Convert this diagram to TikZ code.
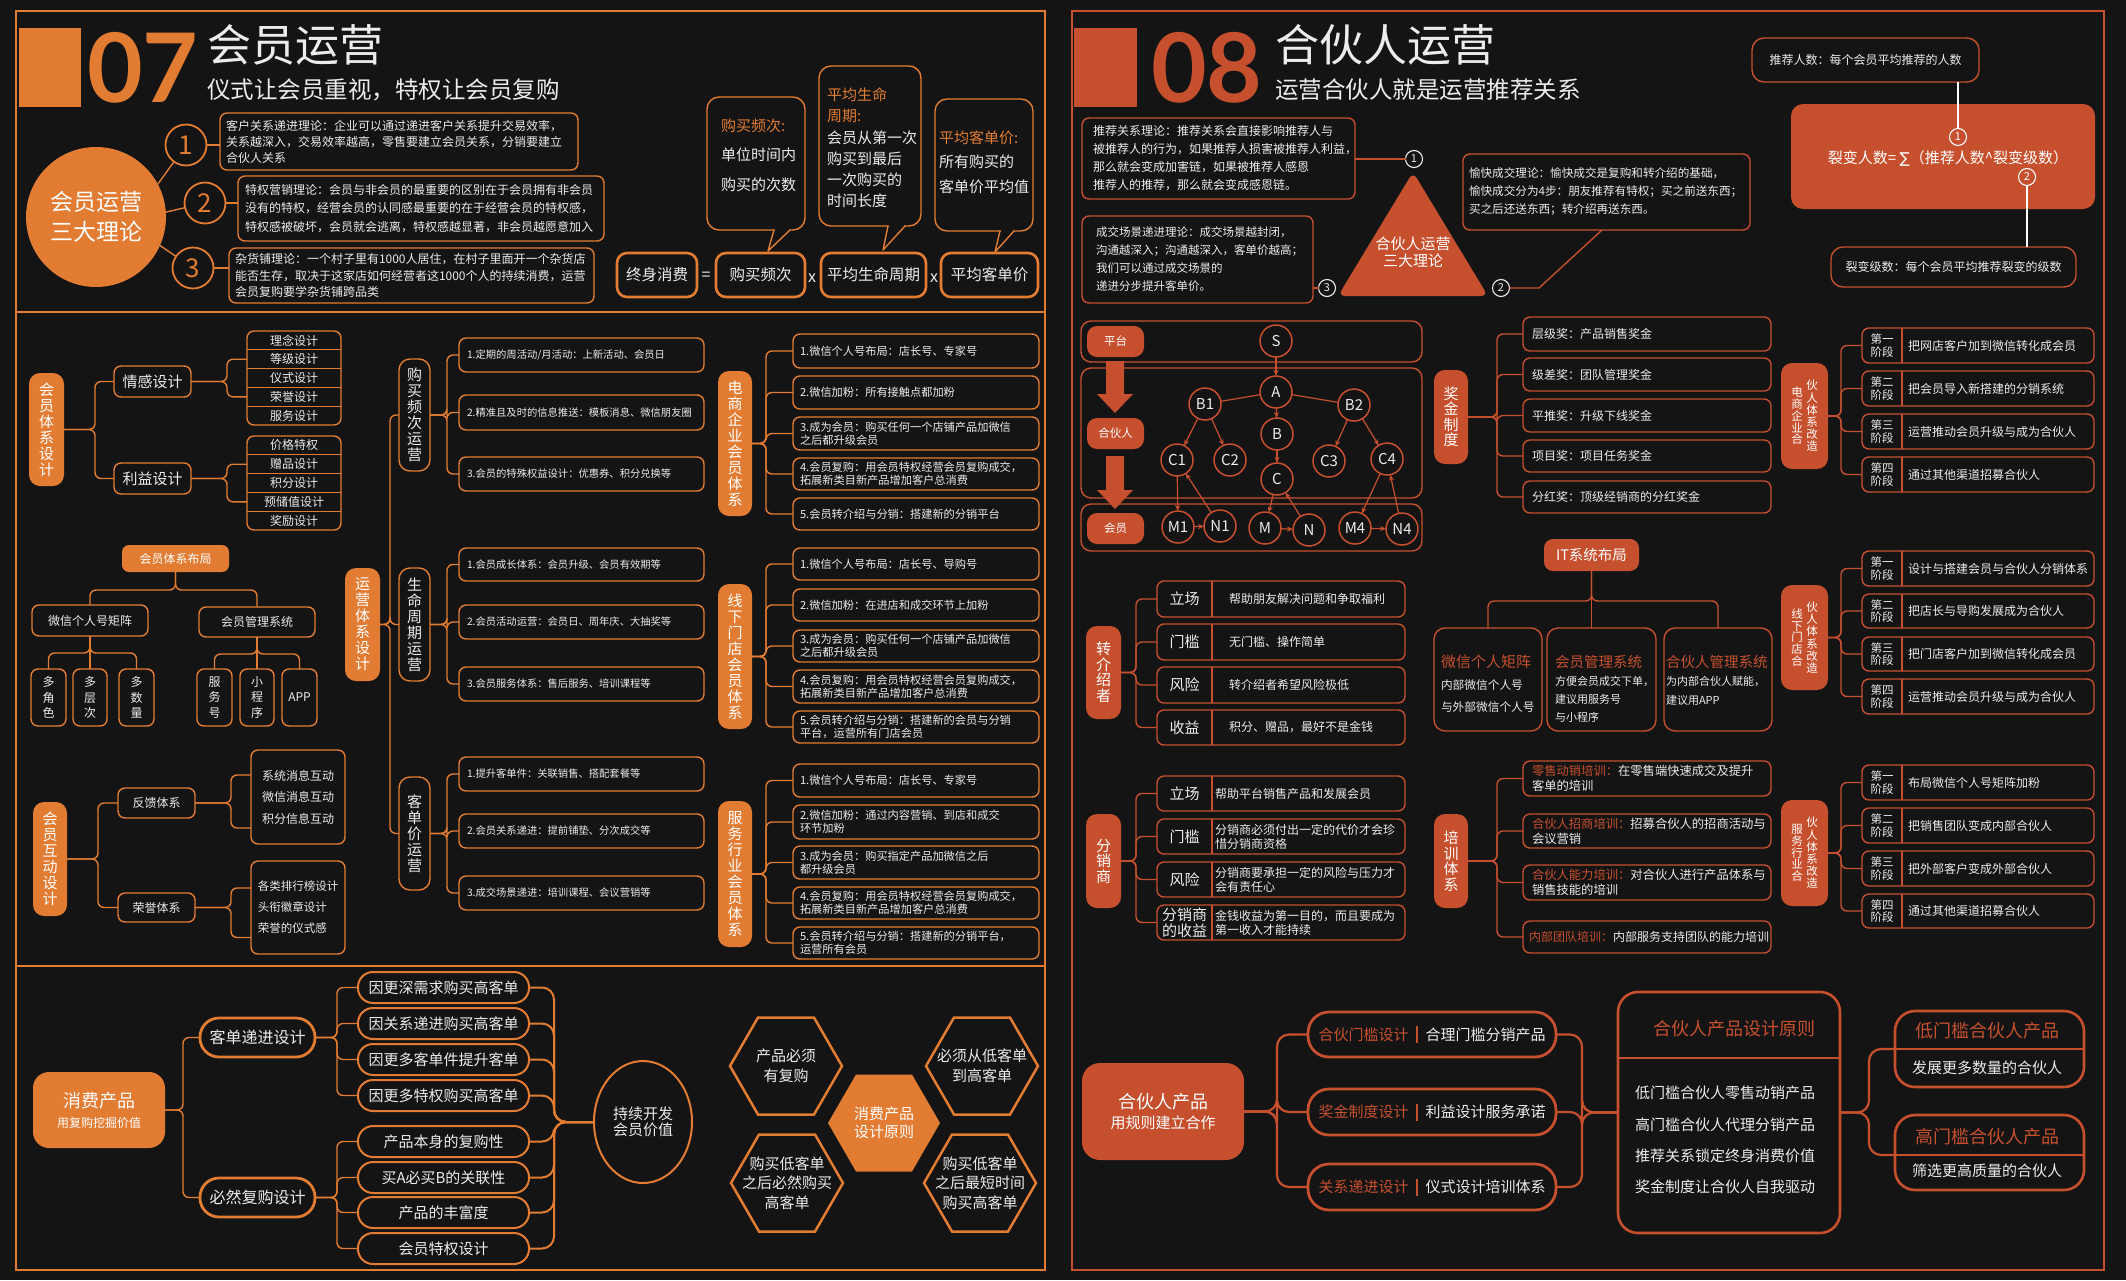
\documentclass[tikz,border=0pt]{standalone}
\usepackage{fontspec}
\setmainfont{Noto Sans CJK SC}
\newfontfamily\numfont{Lato}
\newfontfamily\djv{DejaVu Sans}
\usetikzlibrary{shapes.geometric,arrows.meta,calc}
\definecolor{bg}{RGB}{20,20,20}
\definecolor{OR}{RGB}{226,124,50}
\definecolor{RD}{RGB}{198,80,46}
\definecolor{TX}{RGB}{236,236,236}
\newcommand\fs[2]{\fontsize{#1pt}{#2pt}\selectfont}
\tikzset{
 nb/.style={inner sep=0pt,outer sep=0pt,align=center,text=TX},
 obx/.style={draw=OR,line width=1.4pt,rounded corners=7pt},
 ofx/.style={fill=OR,text=white,rounded corners=7pt},
 rbx/.style={draw=RD,line width=1.4pt,rounded corners=7pt},
 rfx/.style={fill=RD,text=white,rounded corners=7pt},
 ofv/.style={ofx,rounded corners=11pt,font=\fs{15}{16}},
 obv/.style={obx,rounded corners=11pt,font=\fs{15}{16}},
 rfv/.style={rfx,rounded corners=11pt,font=\fs{15}{15.5}},
 lno/.style={draw=OR,line width=1.4pt,rounded corners=6pt},
 lnr/.style={draw=RD,line width=1.4pt,rounded corners=6pt},
 numc/.style={nb,circle,draw=OR,line width=1.8pt,minimum size=41pt,text=OR,font=\fs{26}{26}},
 fbox/.style={draw=OR,line width=2.6pt,rounded corners=10pt,font=\fs{15.5}{16}},
 gtx/.style={obx,font=\fs{10.3}{13}},
 dtx/.style={obx,font=\fs{11.2}{12.8}},
 pbx/.style={draw=OR,line width=2pt,rounded corners=15pt,font=\fs{15}{16}},
 tbx/.style={draw=OR,line width=2.8pt,rounded corners=19pt,font=\fs{16}{17}},
 hexs/.style={nb,regular polygon,regular polygon sides=6,minimum size=112pt,draw=OR,line width=2.5pt},
 smc/.style={nb,circle,draw=TX,line width=1.1pt,minimum size=17pt,font=\fs{11}{11}},
 trn/.style={nb,circle,draw=RD,line width=1.5pt,minimum size=32pt,font=\fs{15}{15}},
 tarr/.style={draw=RD,line width=1.2pt,-{Stealth[length=6pt,width=5pt]}},
 pil/.style={draw=RD,line width=2.8pt,rounded corners=21pt,font=\fs{15}{16}},
 rb2/.style={draw=RD,line width=2.6pt,rounded corners=20pt}
}
\newcommand\bx[7]{%
  \pgfmathsetmacro\bxw{#5-#3}\pgfmathsetmacro\bxh{#6-#4}%
  \pgfmathsetmacro\bxx{(#3+#5)/2}\pgfmathsetmacro\bxy{(#4+#6)/2}%
  \node[nb,#1,minimum width=\bxw pt,minimum height=\bxh pt] (#2) at (\bxx,\bxy) {#7};}
\newcommand\bxl[8]{%
  \pgfmathsetmacro\bxw{#5-#3}\pgfmathsetmacro\bxh{#6-#4}%
  \pgfmathsetmacro\bxx{(#3+#5)/2}\pgfmathsetmacro\bxy{(#4+#6)/2}%
  \pgfmathsetmacro\bxt{#5-#3-2*#7}%
  \node[nb,#1,align=left,text width=\bxt pt,minimum width=\bxw pt,minimum height=\bxh pt] (#2) at (\bxx,\bxy) {#8};}
\newcommand\zrow[6]{%
  \bx{rbx}{#1}{1157}{#2}{1405}{#3}{}%
  \pgfmathsetmacro\zry{(#2+#3)/2}%
  \node[nb,font=\fs{15}{16}] (#1l) at (1184.5,\zry) {#4};%
  \node[nb,anchor=west,align=left,font=\fs{12}{14}] (#1t) at (#5,\zry) {#6};%
  \draw[RD,line width=1.4pt] (1212,#2) -- (1212,#3);}
\newcommand\stg[5]{%
  \bx{rbx}{#1}{1862}{#2}{2094}{#3}{}%
  \pgfmathsetmacro\sty{(#2+#3)/2}%
  \node[nb,font=\fs{11.5}{12.5}] (#1l) at (1882,\sty) {#4};%
  \node[nb,anchor=west,font=\fs{12}{14}] (#1t) at (1908,\sty) {#5};%
  \draw[RD,line width=1.4pt] (1902,#2) -- (1902,#3);}
\begin{document}
\begin{tikzpicture}[x=1pt,y=-1pt,font=\fs{12}{15}]
\fill[bg] (0,0) rectangle (2126,1280);
\useasboundingbox (0,0) rectangle (2126,1280);
\draw[OR,line width=2.2pt] (16,11) rectangle (1045,1270);
\draw[OR,line width=2.2pt] (16,312) -- (1045,312);
\draw[OR,line width=2.2pt] (16,966) -- (1045,966);
\draw[RD,line width=2.2pt] (1072,11) rectangle (2104,1270);

%% ===== 07 header =====
\bx{fill=OR}{blk07}{19}{28}{81}{107}{}
\node[nb,anchor=west,text=OR,font=\numfont\bfseries\fs{96}{96}] (num07) at (87,68) {07};
\node[nb,anchor=west,font=\fs{44}{44}] (tit07) at (207,45) {会员运营};
\node[nb,anchor=west,font=\fs{23.5}{24}] (sub07) at (207,90) {仪式让会员重视，特权让会员复购};

\node[nb,circle,fill=OR,text=white,minimum size=140pt,font=\fs{23}{30}] (c07) at (96,217) {会员运营\\三大理论};
\node[numc] (t1) at (186,145) {1};
\node[numc] (t2) at (205,203) {2};
\node[numc] (t3) at (193,268) {3};
\draw[lno] (c07.28) -- (t1);
\draw[lno] (c07.4) -- (t2);
\draw[lno] (c07.-24) -- (t3);
\bxl{obx,font=\fs{12}{16}}{tb1}{220}{113}{578}{170}{6}{客户关系递进理论：企业可以通过递进客户关系提升交易效率，\\关系越深入，交易效率越高，零售要建立会员关系，分销要建立\\合伙人关系}
\bxl{obx,font=\fs{12}{18.5}}{tb2}{238}{176}{604}{241}{7}{特权营销理论：会员与非会员的最重要的区别在于会员拥有非会员\\没有的特权，经营会员的认同感最重要的在于经营会员的特权感，\\特权感被破坏，会员就会逃离，特权感越显著，非会员越愿意加入}
\bxl{obx,font=\fs{12}{16.5}}{tb3}{229}{248}{594}{303}{6}{杂货铺理论：一个村子里有1000人居住，在村子里面开一个杂货店\\能否生存，取决于这家店如何经营者这1000个人的持续消费，运营\\会员复购要学杂货铺跨品类}
\draw[lno] (t1.east) -- (t1.east -| tb1.west);
\draw[lno] (t2.east) -- (t2.east -| tb2.west);
\draw[lno] (t3.east) -- (t3.east -| tb3.west);

%% bubbles
\bx{obx,rounded corners=12pt}{bub1}{707}{97}{805}{230}{}
\node[nb,anchor=west,align=left,font=\fs{15}{29.5}] (bub1t) at (721,155) {\textcolor{OR}{购买频次:}\\单位时间内\\购买的次数};
\fill[bg] (775,227.5) rectangle (789,232.5);
\draw[OR,line width=1.4pt,line join=round] (774,230) -- (768,251) -- (790,230);
\bx{obx,rounded corners=12pt}{bub2}{819}{66}{921}{226}{}
\node[nb,anchor=west,align=left,font=\fs{15}{21.2}] (bub2t) at (827,148) {\textcolor{OR}{平均生命}\\\textcolor{OR}{周期:}\\会员从第一次\\购买到最后\\一次购买的\\时间长度};
\fill[bg] (889,223.5) rectangle (904,228.5);
\draw[OR,line width=1.4pt,line join=round] (888,226) -- (883,250) -- (905,226);
\bx{obx,rounded corners=12pt}{bub3}{935}{99}{1033}{231}{}
\node[nb,anchor=west,align=left,font=\fs{15}{24.5}] (bub3t) at (939,162) {\textcolor{OR}{平均客单价:}\\所有购买的\\客单价平均值};
\fill[bg] (1001,228.5) rectangle (1013,233.5);
\draw[OR,line width=1.4pt,line join=round] (1000,231) -- (995,252) -- (1014,231);

%% formula
\bx{fbox}{f1}{617}{253}{697}{297}{终身消费}
\node[nb,font=\fs{16}{16}] (feq) at (706,276) {=};
\bx{fbox}{f2}{716}{253}{805}{297}{购买频次}
\node[nb,font=\fs{16}{16}] (fx1) at (812,278) {x};
\bx{fbox}{f3}{821}{253}{926}{297}{平均生命周期}
\node[nb,font=\fs{16}{16}] (fx2) at (934,278) {x};
\bx{fbox}{f4}{941}{253}{1038}{297}{平均客单价}

%% ===== 07 middle =====
\bx{ofv}{hytx}{29}{373}{64}{486}{会\\员\\体\\系\\设\\计}
\bx{obx,font=\fs{15}{16}}{qg}{114}{366}{191}{397}{情感设计}
\bx{obx,font=\fs{15}{16}}{ly}{114}{463}{191}{494}{利益设计}
\draw[lno] (hytx.east) -- ++(31,0) |- (qg.west);
\draw[lno] (hytx.east) -- ++(31,0) |- (ly.west);
\bx{obx}{l1}{247}{331}{341}{425}{}
\foreach \nm/\yy/\tx in {l1a/340.4/理念设计,l1b/359.2/等级设计,l1c/378/仪式设计,l1d/396.8/荣誉设计,l1e/415.6/服务设计,
  l2a/445.4/价格特权,l2b/464.2/赠品设计,l2c/483/积分设计,l2d/501.8/预储值设计,l2e/520.6/奖励设计}
  \node[nb,minimum width=94pt,minimum height=18pt,font=\fs{12}{13}] (\nm) at (294,\yy) {\tx};
\bx{obx}{l2}{247}{436}{341}{530}{}
\foreach \yy in {349.8,368.6,387.4,406.2,454.8,473.6,492.4,511.2}
  \draw[OR,line width=1.2pt] (247,\yy) -- (341,\yy);
\draw[lno] (qg.east) -- ++(36,0) |- (l1b.west);
\draw[lno] (qg.east) -- ++(36,0) |- (l1d.west);
\draw[lno] (ly.east) -- ++(36,0) |- (l2b.west);
\draw[lno] (ly.east) -- ++(36,0) |- (l2d.west);

\bx{ofx,font=\fs{12}{13}}{hyb}{122}{545}{229}{572}{会员体系布局}
\bx{obx,font=\fs{12}{13}}{wx}{32}{605}{148}{636}{微信个人号矩阵}
\bx{obx,font=\fs{12}{13}}{hyg}{199}{607}{315}{637}{会员管理系统}
\draw[lno] (hyb.south) -- ++(0,18) -| (wx.north);
\draw[lno] (hyb.south) -- ++(0,18) -| (hyg.north);
\bx{obx,font=\fs{12}{15.5}}{s1}{31}{669}{66}{726}{多\\角\\色}
\bx{obx,font=\fs{12}{15.5}}{s2}{73}{669}{107}{726}{多\\层\\次}
\bx{obx,font=\fs{12}{15.5}}{s3}{119}{669}{154}{726}{多\\数\\量}
\bx{obx,font=\fs{12}{15.5}}{s4}{197}{669}{232}{726}{服\\务\\号}
\bx{obx,font=\fs{12}{15.5}}{s5}{240}{669}{274}{726}{小\\程\\序}
\bx{obx,font=\fs{12}{15.5}}{s6}{282}{669}{317}{726}{APP}
\foreach \nm in {s1,s2,s3} \draw[lno] (wx.south) -- ++(0,17) -| (\nm.north);
\foreach \nm in {s4,s5,s6} \draw[lno] (hyg.south) -- ++(0,17) -| (\nm.north);

\bx{ofv}{hdsj}{33}{802}{67}{916}{会\\员\\互\\动\\设\\计}
\bx{obx,font=\fs{12}{13}}{fk}{118}{788}{195}{818}{反馈体系}
\bx{obx,font=\fs{12}{13}}{ry}{118}{893}{195}{922}{荣誉体系}
\draw[lno] (hdsj.east) -- ++(31,0) |- (fk.west);
\draw[lno] (hdsj.east) -- ++(31,0) |- (ry.west);
\bx{obx,font=\fs{12}{21.5}}{fkl}{251}{750}{345}{844}{系统消息互动\\微信消息互动\\积分信息互动}
\bx{obx,font=\fs{11.5}{21},align=left}{ryl}{251}{861}{345}{954}{各类排行榜设计\\头衔徽章设计\\荣誉的仪式感}
\draw[lno] (fk.east) -- ++(36,0) |- ($(fkl.west)+(0,-22)$);
\draw[lno] (fk.east) -- ++(36,0) |- ($(fkl.west)+(0,31)$);
\draw[lno] (ry.east) -- ++(36,0) |- ($(ryl.west)+(0,-19.5)$);
\draw[lno] (ry.east) -- ++(36,0) |- ($(ryl.west)+(0,30)$);

\bx{ofv}{yytx}{345}{568}{380}{681}{运\\营\\体\\系\\设\\计}
\bx{obv}{gm}{399}{359}{430}{471}{购\\买\\频\\次\\运\\营}
\bx{obv}{sm}{399}{568}{430}{681}{生\\命\\周\\期\\运\\营}
\bx{obv}{kd}{399}{777}{430}{890}{客\\单\\价\\运\\营}
\foreach \nm in {gm,sm,kd} \draw[lno] (yytx.east) -- ++(10,0) |- (\nm.west);
\bxl{gtx}{g1}{459}{338}{704}{372}{8}{1.定期的周活动/月活动：上新活动、会员日}
\bxl{gtx}{g2}{459}{395}{704}{430}{8}{2.精准且及时的信息推送：模板消息、微信朋友圈}
\bxl{gtx}{g3}{459}{457}{704}{491}{8}{3.会员的特殊权益设计：优惠券、积分兑换等}
\bxl{gtx}{sg1}{459}{548}{704}{581}{8}{1.会员成长体系：会员升级、会员有效期等}
\bxl{gtx}{sg2}{459}{605}{704}{639}{8}{2.会员活动运营：会员日、周年庆、大抽奖等}
\bxl{gtx}{sg3}{459}{667}{704}{701}{8}{3.会员服务体系：售后服务、培训课程等}
\bxl{gtx}{k1}{459}{757}{704}{791}{8}{1.提升客单件：关联销售、搭配套餐等}
\bxl{gtx}{k2}{459}{814}{704}{848}{8}{2.会员关系递进：提前铺垫、分次成交等}
\bxl{gtx}{k3}{459}{876}{704}{910}{8}{3.成交场景递进：培训课程、会议营销等}
\foreach \nm in {g1,g2,g3} \draw[lno] (gm.east) -- ++(17,0) |- (\nm.west);
\foreach \nm in {sg1,sg2,sg3} \draw[lno] (sm.east) -- ++(17,0) |- (\nm.west);
\foreach \nm in {k1,k2,k3} \draw[lno] (kd.east) -- ++(17,0) |- (\nm.west);

\bx{ofv}{ds}{718}{371}{752}{516}{电\\商\\企\\业\\会\\员\\体\\系}
\bxl{dtx}{d1}{793}{334}{1039}{368}{7}{1.微信个人号布局：店长号、专家号}
\bxl{dtx}{d2}{793}{376}{1039}{409}{7}{2.微信加粉：所有接触点都加粉}
\bxl{dtx}{d3}{793}{417}{1039}{450}{7}{3.成为会员：购买任何一个店铺产品加微信\\之后都升级会员}
\bxl{dtx}{d4}{793}{458}{1039}{490}{7}{4.会员复购：用会员特权经营会员复购成交，\\拓展新类目新产品增加客户总消费}
\bxl{dtx}{d5}{793}{498}{1039}{530}{7}{5.会员转介绍与分销：搭建新的分销平台}
\foreach \nm in {d1,d2,d3,d4,d5} \draw[lno] (ds.east) -- ++(14,0) |- (\nm.west);
\bx{ofv}{xx}{718}{584}{752}{729}{线\\下\\门\\店\\会\\员\\体\\系}
\bxl{dtx}{x1}{793}{548}{1039}{580}{7}{1.微信个人号布局：店长号、导购号}
\bxl{dtx}{x2}{793}{589}{1039}{621}{7}{2.微信加粉：在进店和成交环节上加粉}
\bxl{dtx}{x3}{793}{630}{1039}{662}{7}{3.成为会员：购买任何一个店铺产品加微信\\之后都升级会员}
\bxl{dtx}{x4}{793}{670}{1039}{703}{7}{4.会员复购：用会员特权经营会员复购成交，\\拓展新类目新产品增加客户总消费}
\bxl{dtx}{x5}{793}{711}{1039}{743}{7}{5.会员转介绍与分销：搭建新的会员与分销\\平台，运营所有门店会员}
\foreach \nm in {x1,x2,x3,x4,x5} \draw[lno] (xx.east) -- ++(14,0) |- (\nm.west);
\bx{ofv}{fw}{718}{801}{752}{947}{服\\务\\行\\业\\会\\员\\体\\系}
\bxl{dtx}{w1}{793}{764}{1039}{797}{7}{1.微信个人号布局：店长号、专家号}
\bxl{dtx}{w2}{793}{805}{1039}{839}{7}{2.微信加粉：通过内容营销、到店和成交\\环节加粉}
\bxl{dtx}{w3}{793}{846}{1039}{879}{7}{3.成为会员：购买指定产品加微信之后\\都升级会员}
\bxl{dtx}{w4}{793}{887}{1039}{919}{7}{4.会员复购：用会员特权经营会员复购成交，\\拓展新类目新产品增加客户总消费}
\bxl{dtx}{w5}{793}{927}{1039}{959}{7}{5.会员转介绍与分销：搭建新的分销平台，\\运营所有会员}
\foreach \nm in {w1,w2,w3,w4,w5} \draw[lno] (fw.east) -- ++(14,0) |- (\nm.west);

%% ===== 07 bottom =====
\bx{ofx,rounded corners=16pt}{xfcp}{33}{1072}{165}{1148}{{\fs{18}{18}消费产品}\\[5pt]{\fs{12}{12}用复购挖掘价值}}
\bx{tbx}{kdj}{200}{1018}{315}{1057}{客单递进设计}
\bx{tbx}{brf}{200}{1178}{315}{1217}{必然复购设计}
\draw[lno] (xfcp.east) -- ++(18,0) |- (kdj.west);
\draw[lno] (xfcp.east) -- ++(18,0) |- (brf.west);
\bx{pbx}{b1}{358}{972}{529}{1003}{因更深需求购买高客单}
\bx{pbx}{b2}{358}{1008}{529}{1039}{因关系递进购买高客单}
\bx{pbx}{b3}{358}{1044}{529}{1075}{因更多客单件提升客单}
\bx{pbx}{b4}{358}{1080}{529}{1111}{因更多特权购买高客单}
\bx{pbx}{b5}{358}{1126}{529}{1157}{产品本身的复购性}
\bx{pbx}{b6}{358}{1162}{529}{1193}{买A必买B的关联性}
\bx{pbx}{b7}{358}{1197}{529}{1228}{产品的丰富度}
\bx{pbx}{b8}{358}{1233}{529}{1264}{会员特权设计}
\foreach \nm in {b1,b2,b3,b4} \draw[lno] (kdj.east) -- ++(22,0) |- (\nm.west);
\foreach \nm in {b5,b6,b7,b8} \draw[lno] (brf.east) -- ++(22,0) |- (\nm.west);
\node[nb,ellipse,draw=OR,line width=2pt,minimum width=98pt,minimum height=122pt,font=\fs{15}{16.5}] (cxkf) at (643,1122) {持续开发\\会员价值};
\foreach \nm in {b1,b2,b3,b4,b5,b6,b7,b8} \draw[lno,line width=2pt,rounded corners=12pt] (\nm.east) -- ++(25,0) |- (cxkf.west);

\node[hexs] (hx1) at (786,1066) {};
\node[hexs] (hx2) at (982,1066) {};
\node[hexs,fill=OR,draw=none] (hx0) at (884,1123) {};
\node[hexs] (hx3) at (787,1183) {};
\node[hexs] (hx4) at (980,1183) {};
\node[nb,font=\fs{15}{20}] (hx1t) at (hx1) {产品必须\\有复购};
\node[nb,font=\fs{15}{20}] (hx2t) at (hx2) {必须从低客单\\到高客单};
\node[nb,text=white,font=\fs{15}{18.5}] (hx0t) at (hx0) {消费产品\\设计原则};
\node[nb,font=\fs{15}{19.5}] (hx3t) at (hx3) {购买低客单\\之后必然购买\\高客单};
\node[nb,font=\fs{15}{19.5}] (hx4t) at (hx4) {购买低客单\\之后最短时间\\购买高客单};

%% ===== 08 header =====
\bx{fill=RD}{blk08}{1074}{28}{1137}{107}{}
\node[nb,anchor=west,text=RD,font=\numfont\bfseries\fs{96}{96}] (num08) at (1151,68) {08};
\node[nb,anchor=west,font=\fs{44}{44}] (tit08) at (1275,45) {合伙人运营};
\node[nb,anchor=west,font=\fs{23.5}{24}] (sub08) at (1275,90) {运营合伙人就是运营推荐关系};

\bxl{rbx,font=\fs{12}{18}}{th1}{1082}{118}{1355}{199}{11}{推荐关系理论：推荐关系会直接影响推荐人与\\被推荐人的行为，如果推荐人损害被推荐人利益，\\那么就会变成加害链，如果被推荐人感恩\\推荐人的推荐，那么就会变成感恩链。}
\bxl{rbx,font=\fs{11.5}{18}}{th3}{1082}{216}{1313}{303}{14}{成交场景递进理论：成交场景越封闭，\\沟通越深入；沟通越深入，客单价越高；\\我们可以通过成交场景的\\递进分步提升客单价。}
\bxl{rbx,font=\fs{11.6}{18}}{th2}{1463}{154}{1750}{230}{6}{愉快成交理论：愉快成交是复购和转介绍的基础，\\愉快成交分为4步：朋友推荐有特权；买之前送东西；\\买之后还送东西；转介绍再送东西。}
\fill[RD,rounded corners=7pt] (1413,172) -- (1488,296) -- (1338,296) -- cycle;
\node[nb,text=white,font=\fs{15}{17}] (tri) at (1413,252) {合伙人运营\\三大理论};
\node[smc] (k1) at (1414,159) {1};
\node[smc] (k2) at (1501,288) {2};
\node[smc] (k3) at (1327,288) {3};
\draw[lnr] (th1.east |- k1.west) -- (k1.west);
\draw[lnr] (th3.east |- k3.west) -- (k3.west);
\draw[lnr,rounded corners=0pt] (k2.east) -- (1539,288) -- (th2.south -| 1602,0);

\bx{rbx,rounded corners=12pt}{tjrs}{1752}{38}{1979}{82}{推荐人数：每个会员平均推荐的人数}
\bx{rfx,rounded corners=12pt}{lbf}{1791}{104}{2095}{209}{}
\node[nb,text=white,font=\fs{15}{15}] (lbft) at (1948,159) {裂变人数= {\djv ∑}（推荐人数\^{}裂变级数）};
\node[smc,draw=white,text=white] (kk1) at (1958,137) {1};
\node[smc,draw=white,text=white] (kk2) at (2027,177) {2};
\bx{rbx,rounded corners=12pt}{lbj}{1831}{247}{2076}{287}{裂变级数：每个会员平均推荐裂变的级数}
\draw[white,line width=1.3pt] (tjrs.south -| kk1.north) -- (kk1.north);
\draw[white,line width=1.3pt] (kk2.south) -- (kk2.south |- lbj.north);

%% platform diagram
\bx{rbx,rounded corners=10pt}{row1}{1081}{321}{1422}{362}{}
\bx{rbx,rounded corners=10pt}{row2}{1081}{368}{1422}{498}{}
\bx{rbx,rounded corners=10pt}{row3}{1081}{504}{1422}{551}{}
\bx{rfx,rounded corners=10pt,font=\fs{11.5}{12}}{lpt}{1087}{326}{1144}{357}{平台}
\bx{rfx,rounded corners=10pt,font=\fs{11.5}{12}}{lhh}{1087}{418}{1144}{449}{合伙人}
\bx{rfx,rounded corners=10pt,font=\fs{11.5}{12}}{lhy}{1087}{513}{1144}{544}{会员}
\fill[RD] (1106,361) -- (1124,361) -- (1124,394) -- (1133,394) -- (1115,413) -- (1097,394) -- (1106,394) -- cycle;
\fill[RD] (1106,456) -- (1124,456) -- (1124,490) -- (1133,490) -- (1115,509) -- (1097,490) -- (1106,490) -- cycle;
\node[trn] (tS) at (1276,341) {S};
\node[trn] (tA) at (1276,392) {A};
\node[trn] (tB1) at (1205,404) {B1};
\node[trn] (tB2) at (1354,405) {B2};
\node[trn] (tB) at (1277,434) {B};
\node[trn] (tC1) at (1177,460) {C1};
\node[trn] (tC2) at (1230,460) {C2};
\node[trn] (tC3) at (1329,461) {C3};
\node[trn] (tC4) at (1387,459) {C4};
\node[trn] (tC) at (1277,479) {C};
\node[trn] (tM1) at (1178,527) {M1};
\node[trn] (tN1) at (1220,526) {N1};
\node[trn] (tM) at (1265,528) {M};
\node[trn] (tN) at (1309,530) {N};
\node[trn] (tM4) at (1355,528) {M4};
\node[trn] (tN4) at (1402,529) {N4};
\draw[RD,line width=1.2pt] (tA) -- (tB1) (tA) -- (tB2);
\foreach \a/\b in {tS/tA,tA/tB,tB/tC,tB1/tC1,tB1/tC2,tB2/tC3,tB2/tC4,tC1/tM1,tN1/tC1,tC/tM,tN/tC,tC4/tM4,tN4/tC4,tM1/tN1,tM/tN,tM4/tN4}
  \draw[tarr] (\a) -- (\b);

%% 转介绍者 / 分销商
\bx{rfv}{zjs}{1086}{626}{1121}{719}{转\\介\\绍\\者}
\zrow{zr1}{581}{617}{立场}{1229}{帮助朋友解决问题和争取福利}
\zrow{zr2}{624}{660}{门槛}{1229}{无门槛、操作简单}
\zrow{zr3}{667}{703}{风险}{1229}{转介绍者希望风险极低}
\zrow{zr4}{710}{745}{收益}{1229}{积分、赠品，最好不是金钱}
\foreach \nm in {zr1,zr2,zr3,zr4} \draw[lnr] (zjs.east) -- ++(15,0) |- (\nm.west);
\bx{rfv}{fxs}{1086}{814}{1121}{908}{分\\销\\商}
\zrow{fr1}{776}{811}{立场}{1215}{帮助平台销售产品和发展会员}
\zrow{fr2}{819}{854}{门槛}{1215}{分销商必须付出一定的代价才会珍\\惜分销商资格}
\zrow{fr3}{862}{897}{风险}{1215}{分销商要承担一定的风险与压力才\\会有责任心}
\zrow{fr4}{905}{940}{分销商\\的收益}{1215}{金钱收益为第一目的，而且要成为\\第一收入才能持续}
\foreach \nm in {fr1,fr2,fr3,fr4} \draw[lnr] (fxs.east) -- ++(15,0) |- (\nm.west);

%% 奖金制度
\bx{rfv}{jjzd}{1434}{370}{1468}{464}{奖\\金\\制\\度}
\bxl{rbx,font=\fs{12}{14}}{j1}{1523}{317}{1771}{351}{9}{层级奖：产品销售奖金}
\bxl{rbx,font=\fs{12}{14}}{j2}{1523}{358}{1771}{391}{9}{级差奖：团队管理奖金}
\bxl{rbx,font=\fs{12}{14}}{j3}{1523}{399}{1771}{432}{9}{平推奖：升级下线奖金}
\bxl{rbx,font=\fs{12}{14}}{j4}{1523}{440}{1771}{472}{9}{项目奖：项目任务奖金}
\bxl{rbx,font=\fs{12}{14}}{j5}{1523}{481}{1771}{513}{9}{分红奖：顶级经销商的分红奖金}
\foreach \nm in {j1,j2,j3,j4,j5} \draw[lnr] (jjzd.east) -- ++(29,0) |- (\nm.west);

%% IT系统布局
\bx{rfx,rounded corners=9pt,font=\fs{14.5}{15}}{itx}{1544}{539}{1639}{571}{IT系统布局}
\bx{rbx,rounded corners=11pt}{it1}{1434}{628}{1542}{731}{}
\bx{rbx,rounded corners=11pt}{it2}{1547}{628}{1656}{731}{}
\bx{rbx,rounded corners=11pt}{it3}{1664}{628}{1772}{731}{}
\draw[lnr] (itx.south) -- (itx.south |- it2.north);
\draw[lnr] (itx.south) -- ++(0,30) -| (it1.north);
\draw[lnr] (itx.south) -- ++(0,30) -| (it3.north);
\node[nb,anchor=west,align=left,font=\fs{11.7}{22}] (it1t) at (1441,684) {\textcolor{RD}{\fs{15}{22}微信个人矩阵}\\内部微信个人号\\与外部微信个人号};
\node[nb,anchor=west,align=left,font=\fs{11}{18}] (it2t) at (1555,689) {\textcolor{RD}{\fs{14.5}{18}会员管理系统}\\方便会员成交下单，\\建议用服务号\\与小程序};
\node[nb,anchor=west,align=left,font=\fs{11}{18.5}] (it3t) at (1666,680) {\textcolor{RD}{\fs{14.5}{18.5}合伙人管理系统}\\为内部合伙人赋能，\\建议用APP};

%% 培训体系
\bx{rfv}{pxtx}{1434}{814}{1468}{908}{培\\训\\体\\系}
\bxl{rbx,font=\fs{12.3}{15.5}}{p1}{1523}{761}{1771}{796}{9}{\textcolor{RD}{零售动销培训：}在零售端快速成交及提升\\客单的培训}
\bxl{rbx,font=\fs{12.3}{15}}{p2}{1523}{814}{1771}{848}{9}{\textcolor{RD}{合伙人招商培训：}招募合伙人的招商活动与\\会议营销}
\bxl{rbx,font=\fs{12.3}{15}}{p3}{1523}{865}{1771}{900}{9}{\textcolor{RD}{合伙人能力培训：}对合伙人进行产品体系与\\销售技能的培训}
\bxl{rbx,font=\fs{12}{14}}{p4}{1523}{921}{1771}{953}{6}{\textcolor{RD}{内部团队培训：}内部服务支持团队的能力培训}
\foreach \nm in {p1,p2,p3,p4} \draw[lnr] (pxtx.east) -- ++(29,0) |- (\nm.west);

%% stage groups
\bx{rfx,rounded corners=11pt}{gz1}{1781}{363}{1828}{469}{}
\node[nb,text=white,font=\fs{11.5}{11.8}] (gz1a) at (1797,416) {电\\商\\企\\业\\合};
\node[nb,text=white,font=\fs{11.5}{12.2}] (gz1b) at (1812,416) {伙\\人\\体\\系\\改\\造};
\stg{sa1}{328}{363}{第一\\阶段}{把网店客户加到微信转化成会员}
\stg{sa2}{371}{406}{第二\\阶段}{把会员导入新搭建的分销系统}
\stg{sa3}{414}{449}{第三\\阶段}{运营推动会员升级与成为合伙人}
\stg{sa4}{457}{492}{第四\\阶段}{通过其他渠道招募合伙人}
\foreach \nm in {sa1,sa2,sa3,sa4} \draw[lnr] (gz1.east) -- ++(13,0) |- (\nm.west);
\bx{rfx,rounded corners=11pt}{gz2}{1781}{585}{1828}{690}{}
\node[nb,text=white,font=\fs{11.5}{11.8}] (gz2a) at (1797,637.5) {线\\下\\门\\店\\合};
\node[nb,text=white,font=\fs{11.5}{12.2}] (gz2b) at (1812,637.5) {伙\\人\\体\\系\\改\\造};
\stg{sb1}{551}{586}{第一\\阶段}{设计与搭建会员与合伙人分销体系}
\stg{sb2}{594}{628}{第二\\阶段}{把店长与导购发展成为合伙人}
\stg{sb3}{637}{671}{第三\\阶段}{把门店客户加到微信转化成会员}
\stg{sb4}{679}{714}{第四\\阶段}{运营推动会员升级与成为合伙人}
\foreach \nm in {sb1,sb2,sb3,sb4} \draw[lnr] (gz2.east) -- ++(13,0) |- (\nm.west);
\bx{rfx,rounded corners=11pt}{gz3}{1781}{800}{1828}{906}{}
\node[nb,text=white,font=\fs{11.5}{11.8}] (gz3a) at (1797,853) {服\\务\\行\\业\\合};
\node[nb,text=white,font=\fs{11.5}{12.2}] (gz3b) at (1812,853) {伙\\人\\体\\系\\改\\造};
\stg{sc1}{765}{800}{第一\\阶段}{布局微信个人号矩阵加粉}
\stg{sc2}{808}{843}{第二\\阶段}{把销售团队变成内部合伙人}
\stg{sc3}{851}{886}{第三\\阶段}{把外部客户变成外部合伙人}
\stg{sc4}{894}{928}{第四\\阶段}{通过其他渠道招募合伙人}
\foreach \nm in {sc1,sc2,sc3,sc4} \draw[lnr] (gz3.east) -- ++(13,0) |- (\nm.west);

%% ===== 08 bottom =====
\bx{rfx,rounded corners=18pt}{hhcp}{1082}{1063}{1244}{1160}{{\fs{18}{18}合伙人产品}\\[5pt]{\fs{15}{15}用规则建立合作}}
\bx{pil}{pl1}{1308}{1012}{1556}{1057}{\textcolor{RD}{合伙门槛设计}\hspace{7pt}\textcolor{RD}{\rule[-3pt]{2pt}{17pt}}\hspace{8pt}合理门槛分销产品}
\bx{pil}{pl2}{1308}{1089}{1556}{1135}{\textcolor{RD}{奖金制度设计}\hspace{7pt}\textcolor{RD}{\rule[-3pt]{2pt}{17pt}}\hspace{8pt}利益设计服务承诺}
\bx{pil}{pl3}{1308}{1164}{1556}{1210}{\textcolor{RD}{关系递进设计}\hspace{7pt}\textcolor{RD}{\rule[-3pt]{2pt}{17pt}}\hspace{8pt}仪式设计培训体系}
\foreach \nm in {pl1,pl2,pl3} \draw[lnr,line width=2.2pt,rounded corners=12pt] (hhcp.east) -- ++(33,0) |- (\nm.west);
\bx{rb2}{yz}{1618}{992}{1840}{1233}{}
\foreach \nm in {pl1,pl2,pl3} \draw[lnr,line width=2.2pt,rounded corners=12pt] (\nm.east) -- ++(26,0) |- (yz.west);
\draw[RD,line width=2.6pt] (1618,1058) -- (1840,1058);
\node[nb,text=RD,font=\fs{18}{18}] (yzt) at (1734,1029) {合伙人产品设计原则};
\node[nb,anchor=west,align=left,font=\fs{15}{31.3}] (yzb) at (1635,1140) {低门槛合伙人零售动销产品\\高门槛合伙人代理分销产品\\推荐关系锁定终身消费价值\\奖金制度让合伙人自我驱动};
\bx{rb2}{dm}{1895}{1011}{2084}{1087}{}
\draw[RD,line width=2.6pt] (1895,1049) -- (2084,1049);
\node[nb,text=RD,font=\fs{18}{18}] (dmt) at (1987,1031) {低门槛合伙人产品};
\node[nb,font=\fs{15}{15}] (dms) at (1987,1068) {发展更多数量的合伙人};
\bx{rb2}{gm2}{1895}{1115}{2084}{1190}{}
\draw[RD,line width=2.6pt] (1895,1155) -- (2084,1155);
\node[nb,text=RD,font=\fs{18}{18}] (gmt) at (1987,1137) {高门槛合伙人产品};
\node[nb,font=\fs{15}{15}] (gms) at (1987,1171) {筛选更高质量的合伙人};
\coordinate (dmd) at (1895,1049);
\coordinate (gmd) at (1895,1155);
\draw[lnr,line width=2.2pt,rounded corners=12pt] (yz.east) -- ++(29,0) |- (dmd);
\draw[lnr,line width=2.2pt,rounded corners=12pt] (yz.east) -- ++(29,0) |- (gmd);
\end{tikzpicture}
\end{document}
